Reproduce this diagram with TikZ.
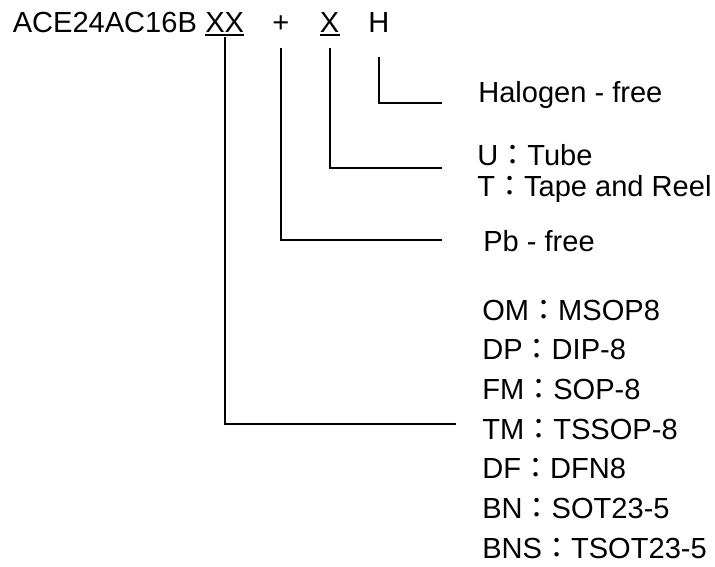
\documentclass[tikz,border=0pt]{standalone}
\usepackage{fontspec}
\setmainfont{Liberation Sans}
\newfontfamily\cjk{Noto Sans CJK TC}
\usepackage{tikz}
\newcommand{\fcolon}{{\cjk ：}}

\begin{document}
\begin{tikzpicture}[x=0.75pt,y=0.75pt,yscale=-1,xscale=1,
  lbl/.style={anchor=base west,inner sep=0pt,font=\fontsize{21.8}{26}\selectfont},
  conn/.style={line width=1.5pt}]
\useasboundingbox (0,0) rectangle (715,567);

% Text Node
\draw (12.5,33) node [lbl] (part) {ACE24AC16B};
% Text Node
\draw (205,33) node [lbl] (xx) {XX};
% Text Node
\draw (272,33) node [lbl] (plus) {+};
% Text Node
\draw (319.6,33) node [lbl] (x) {X};
% Text Node
\draw (368,33) node [lbl] (h) {H};

% Text Node
\draw (478,103) node [lbl] (halo) {Halogen - free};
% Text Node
\draw (477,165.5) node [lbl] (tube) {U\fcolon Tube};
% Text Node
\draw (477,196) node [lbl] (tape) {T\fcolon Tape and Reel};
% Text Node
\draw (483,252) node [lbl] (pb) {Pb - free};
% Text Node
\draw (482,320) node [lbl] (om) {OM\fcolon MSOP8};
% Text Node
\draw (482,359.7) node [lbl] (dp) {DP\fcolon DIP-8};
% Text Node
\draw (482,399.4) node [lbl] (fm) {FM\fcolon SOP-8};
% Text Node
\draw (482,439.1) node [lbl] (tm) {TM\fcolon TSSOP-8};
% Text Node
\draw (482,478.8) node [lbl] (df) {DF\fcolon DFN8};
% Text Node
\draw (482,518.5) node [lbl] (bn) {BN\fcolon SOT23-5};
% Text Node
\draw (482,558.2) node [lbl] (bns) {BNS\fcolon TSOT23-5};

%Straight Lines [underline XX]
\draw [conn] ([yshift=1.5pt]xx.south west) -- ([yshift=1.5pt]xx.south east) ;
%Straight Lines [underline X]
\draw [conn] ([yshift=1.5pt]x.south west) -- ([yshift=1.5pt]x.south east) ;

%Straight Lines [package]
\draw [conn] ([yshift=3pt]xx.south) |- ([xshift=-19.5pt,yshift=-11.25pt]tm.base west) ;
%Straight Lines [lead free]
\draw [conn] ([yshift=11.25pt]plus.south) |- ([xshift=-30.75pt,yshift=-9pt]pb.base west) ;
%Straight Lines [packing]
\draw [conn] ([yshift=11.25pt]x.south) |- ([xshift=-26.25pt,yshift=1.9pt]tube.base west) ;
%Straight Lines [halogen free]
\draw [conn] ([yshift=18pt]h.south) |- ([xshift=-27pt]halo.base west) ;
\end{tikzpicture}
\end{document}
